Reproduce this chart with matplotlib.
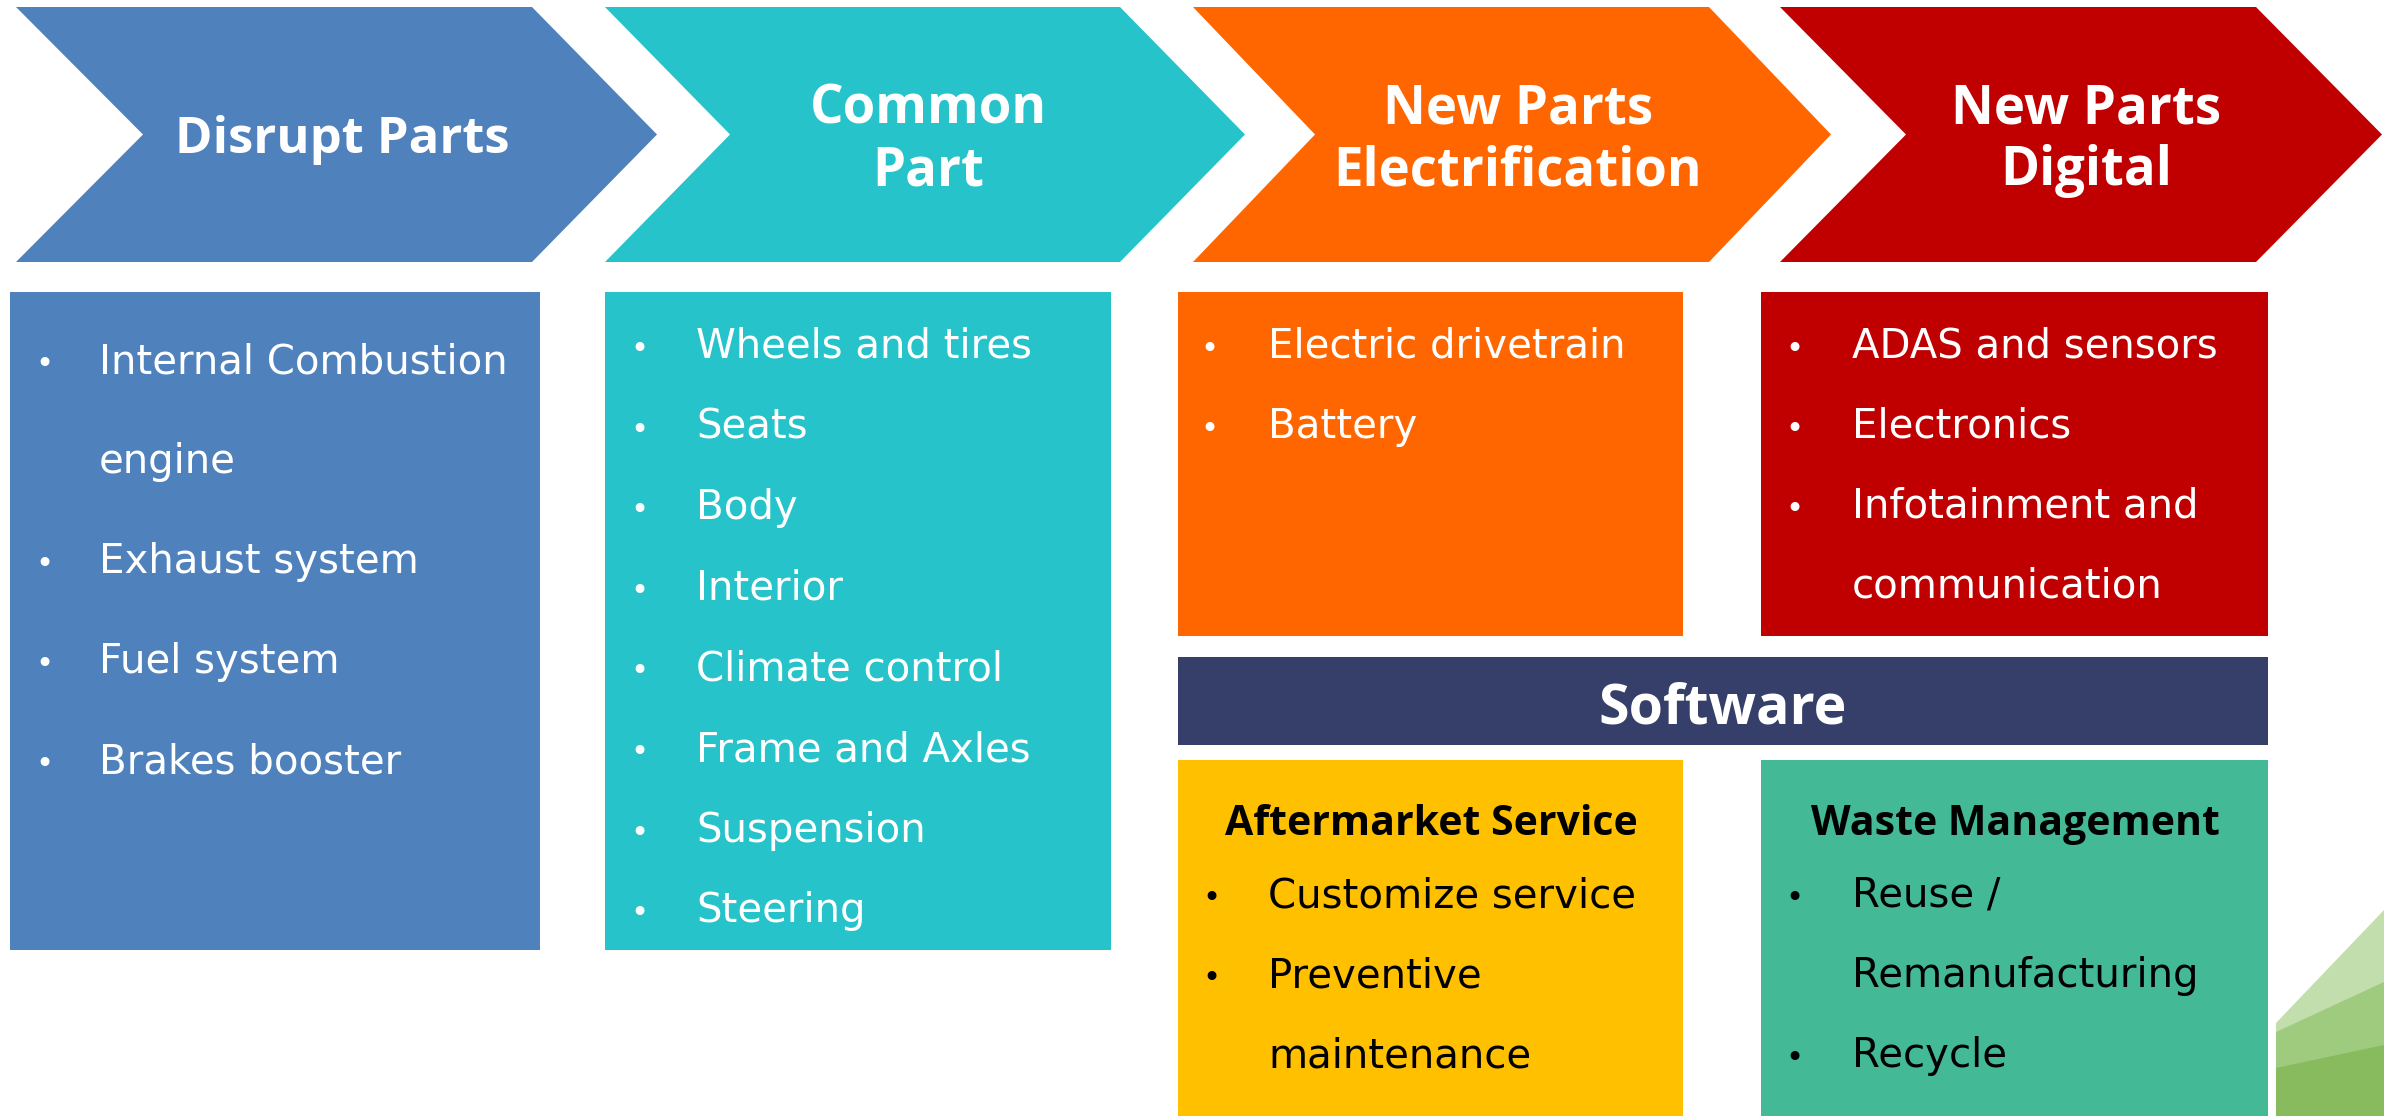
import matplotlib
matplotlib.use("Agg")
import matplotlib.pyplot as plt
from matplotlib.patches import Polygon, Rectangle

# ---------------- data ----------------
stage_titles = ["Disrupt Parts", "Common\nPart", "New Parts\nElectrification", "New Parts\nDigital"]
stage_colors = ["#4F81BD", "#27C3CA", "#FF6600", "#C00000"]

disrupt_items = ["Internal Combustion\nengine", "Exhaust system", "Fuel system", "Brakes booster"]
common_items = ["Wheels and tires", "Seats", "Body", "Interior", "Climate control",
                "Frame and Axles", "Suspension", "Steering"]
electrification_items = ["Electric drivetrain", "Battery"]
digital_items = ["ADAS and sensors", "Electronics", "Infotainment and\ncommunication"]

software_title = "Software"
software_color = "#353F69"

service_titles = ["Aftermarket Service", "Waste Management"]
service_items = [["Customize service", "Preventive\nmaintenance"],
                 ["Reuse /\nRemanufacturing", "Recycle"]]
service_colors = ["#FFC000", "#43B996"]

deco_colors = ["#C3DEAD", "#9FCB7F", "#88BA5E"]

# ---------------- layout (pixel space) ----------------
W, H = 2384, 1116
fig = plt.figure(figsize=(W / 100, H / 100), dpi=100)
ax = fig.add_axes([0, 0, 1, 1])
ax.set_xlim(0, W)
ax.set_ylim(H, 0)
ax.axis("off")
fig.patch.set_facecolor("white")

HEAD_FONT = ["Open Sans", "DejaVu Sans"]
BODY_FONT = ["DejaVu Sans"]
BODY_SIZE = 29

# chevrons: left, notch, right, tip
chev_geom = [(16, 143, 532, 657), (605, 730, 1120, 1245),
             (1193, 1315, 1709, 1831), (1780, 1906, 2256, 2382)]
chev_top, chev_bot = 7, 262
chev_mid = (chev_top + chev_bot) / 2
chev_text_x = [342, 928, 1518, 2086]

for (L, N, R, T), col, title, tx in zip(chev_geom, stage_colors, stage_titles, chev_text_x):
    poly = Polygon([(L, chev_top), (R, chev_top), (T, chev_mid), (R, chev_bot),
                    (L, chev_bot), (N, chev_mid)], closed=True, facecolor=col, edgecolor="none")
    ax.add_patch(poly)
    lines = title.split("\n")
    if len(lines) == 1:
        baselines = [153]
    else:
        baselines = [123, 185]
    for ln, by in zip(lines, baselines):
        fs = 36.5 if len(lines) == 1 else 38
        ax.text(tx, by, ln, ha="center", va="baseline", color="white",
                fontsize=fs, fontweight="bold", family=HEAD_FONT)

# content boxes: x0, x1, y0, y1
boxes = [(10, 540, 292, 950), (605, 1111, 292, 950),
         (1178, 1683, 292, 636), (1761, 2268, 292, 636)]
bullet_x = [35, 630, 1200, 1785]
text_x = [99, 696, 1268, 1852]
first_base = [373, 358, 358, 358]
step = [100, 80.6, 80, 80]
item_lists = [disrupt_items, common_items, electrification_items, digital_items]


def draw_items(items, bx, tx, y0, dy, color):
    y = y0
    for it in items:
        for k, ln in enumerate(it.split("\n")):
            if k == 0:
                ax.text(bx, y, "\u2022", ha="left", va="baseline", color=color,
                        fontsize=22, family=BODY_FONT)
            ax.text(tx, y, ln, ha="left", va="baseline", color=color,
                    fontsize=BODY_SIZE, family=BODY_FONT)
            y += dy


for (x0, x1, y0, y1), col, items, bx, tx, fb, dy in zip(boxes, stage_colors, item_lists,
                                                         bullet_x, text_x, first_base, step):
    ax.add_patch(Rectangle((x0, y0), x1 - x0, y1 - y0, facecolor=col, edgecolor="none"))
    draw_items(items, bx, tx, fb, dy, "white")

# software bar
sw = (1178, 2268, 657, 745)
ax.add_patch(Rectangle((sw[0], sw[2]), sw[1] - sw[0], sw[3] - sw[2],
                       facecolor=software_color, edgecolor="none"))
ax.text((sw[0] + sw[1]) / 2, 723, software_title, ha="center", va="baseline",
        color="white", fontsize=40, fontweight="bold", family=HEAD_FONT)

# service boxes
svc_boxes = [(1178, 1683, 760, 1116), (1761, 2268, 760, 1116)]
svc_bullet_x = [1202, 1785]
svc_text_x = [1268, 1852]
svc_title_x = [1431, 2015]
for (x0, x1, y0, y1), col, title, items, bx, tx, ttx in zip(svc_boxes, service_colors,
                                                            service_titles, service_items,
                                                            svc_bullet_x, svc_text_x, svc_title_x):
    ax.add_patch(Rectangle((x0, y0), x1 - x0, y1 - y0, facecolor=col, edgecolor="none"))
    ax.text(ttx, 835, title, ha="center", va="baseline", color="black",
            fontsize=29.5, fontweight="bold", family=HEAD_FONT)
    draw_items(items, bx, tx, 907, 80, "black")

# decoration at bottom-right
deco_edges = [((2276, 1023), (2384, 910)),
              ((2276, 1032), (2384, 982)),
              ((2276, 1068), (2384, 1045))]
for (p0, p1), col in zip(deco_edges, deco_colors):
    ax.add_patch(Polygon([p0, p1, (2384, H), (2276, H)], closed=True,
                         facecolor=col, edgecolor="none"))

fig.savefig("out.png", dpi=100, facecolor="white")
